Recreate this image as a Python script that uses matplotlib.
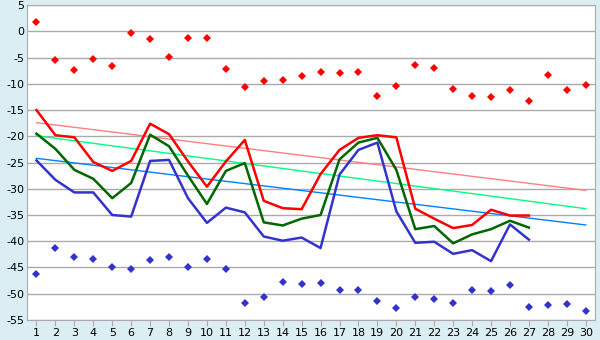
import numpy as np
import matplotlib
matplotlib.use("Agg")
import matplotlib.pyplot as plt

plt.rcParams["axes.unicode_minus"] = False

days = np.arange(1, 31)

# daily extremes (diamonds)
max_pts = [1.7, -5.5, -7.3, -5.35, -6.7, -0.4, -1.5, -4.8, -1.35, -1.35,
           -7.1, -10.7, -9.5, -9.35, -8.6, -7.8, -8.0, -7.8, -12.4, -10.5,
           -6.5, -6.9, -10.9, -12.4, -12.6, -11.25, -13.2, -8.4, -11.25, -10.3]
min_pts = [-46.3, -41.35, -43.06, -43.4, -44.97, -45.35, -43.6, -43.06, -44.97, -43.4,
           -45.35, -51.8, -50.7, -47.8, -48.2, -48.0, -49.35, -49.35, -51.4, -52.7,
           -50.7, -51.1, -51.8, -49.2, -49.5, -48.4, -52.6, -52.2, -52.0, -53.3]

# lines (days 1..27)
red_line = [-15.0, -19.8, -20.2, -24.9, -26.6, -24.7, -17.6, -19.6, -24.8, -29.6,
            -24.8, -20.7, -32.3, -33.7, -33.9, -27.2, -22.6, -20.3, -19.8, -20.2,
            -33.8, -35.7, -37.5, -36.9, -34.0, -35.1, -35.1]
green_line = [-19.5, -22.4, -26.4, -28.1, -31.8, -28.9, -19.7, -21.9, -27.5, -32.9,
              -26.6, -25.1, -36.4, -37.0, -35.7, -35.0, -24.4, -21.2, -20.3, -26.4,
              -37.7, -37.1, -40.4, -38.7, -37.7, -36.1, -37.4]
blue_line = [-24.6, -28.3, -30.7, -30.7, -35.0, -35.3, -24.7, -24.5, -31.8, -36.5,
             -33.6, -34.5, -39.1, -39.9, -39.3, -41.3, -27.3, -22.6, -21.2, -34.3,
             -40.3, -40.1, -42.4, -41.7, -43.8, -36.8, -39.7]

# trend lines: value at day 1 and day 30
trend_days = [1, 30]
red_trend = [-17.4, -30.3]
green_trend = [-19.9, -33.8]
blue_trend = [-24.2, -36.9]

fig = plt.figure(figsize=(6, 3.4), dpi=100, facecolor="#DBEEF4")
ax = fig.add_axes([0.045, 0.059, 0.947, 0.926])
ax.set_facecolor("white")

line_days = days[:len(red_line)]
series = [(red_line, red_trend, "#FF0000", "#FF8080"),
          (green_line, green_trend, "#006600", "#00FF80"),
          (blue_line, blue_trend, "#3333CC", "#0080FF")]

for vals, tr, c, tc in series:
    ax.plot(trend_days, tr, color=tc, lw=1, zorder=2)

for vals, tr, c, tc in series:
    ax.plot(line_days, vals, color=c, lw=1.8, zorder=3)

ax.plot(days, max_pts, ls="none", marker="D", ms=4, mew=0, color="#FF0000", zorder=4)
ax.plot(days, min_pts, ls="none", marker="D", ms=4, mew=0, color="#3333CC", zorder=4)

ax.set_xlim(0.5, 30.5)
ax.set_ylim(-55, 5)
ax.set_xticks(days)
ax.set_yticks(np.arange(-55, 6, 5))
ax.yaxis.grid(True, color="#AAAAAA", lw=1)
ax.set_axisbelow(True)
for s in ax.spines.values():
    s.set_color("#AAAAAA")
ax.tick_params(axis="y", length=0, labelsize=8, pad=2)
ax.tick_params(axis="x", length=4, color="#AAAAAA", labelsize=8, pad=2)

plt.savefig("out.png", dpi=100, facecolor=fig.get_facecolor())
